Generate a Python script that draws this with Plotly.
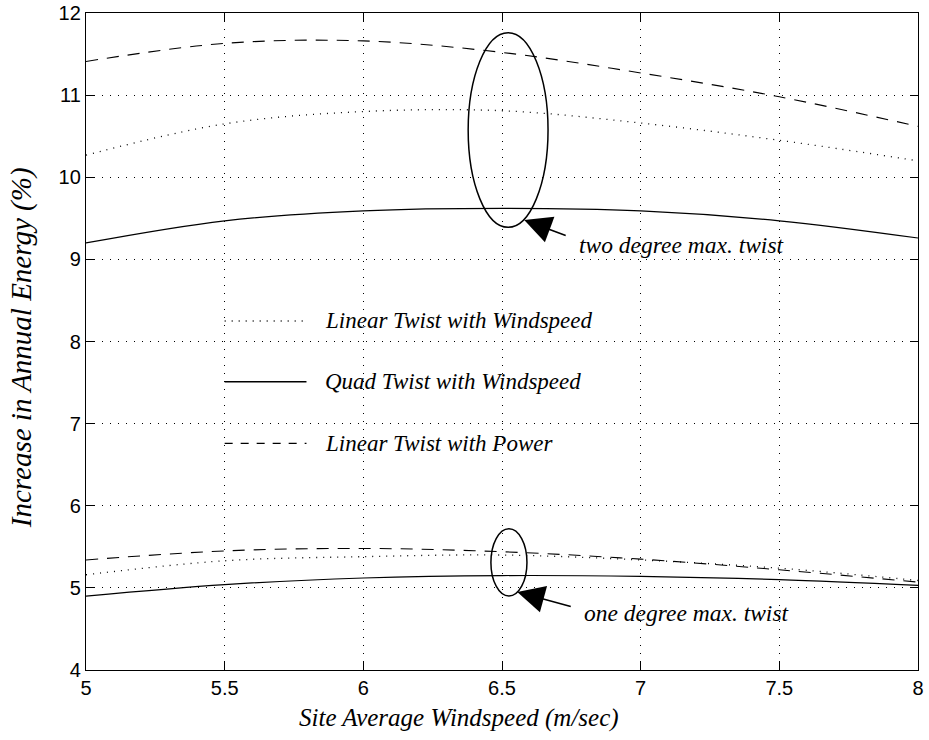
import plotly.graph_objects as go

windspeed = [5.0, 5.5, 6.0, 6.5, 7.0, 7.5, 8.0]

# two degree max. twist
lin_ws_2 = [10.27, 10.65, 10.80, 10.81, 10.66, 10.45, 10.20]
quad_ws_2 = [9.20, 9.47, 9.59, 9.62, 9.59, 9.47, 9.26]
lin_pw_2 = [11.41, 11.63, 11.66, 11.52, 11.27, 10.98, 10.62]

# one degree max. twist
lin_ws_1 = [5.16, 5.33, 5.38, 5.40, 5.34, 5.24, 5.09]
quad_ws_1 = [4.90, 5.04, 5.12, 5.15, 5.14, 5.10, 5.03]
lin_pw_1 = [5.34, 5.45, 5.48, 5.44, 5.35, 5.22, 5.07]

legend_names = ["Linear Twist with Windspeed", "Quad Twist with Windspeed", "Linear Twist with Power"]
x_ticks = [5, 5.5, 6, 6.5, 7, 7.5, 8]
y_ticks = [4, 5, 6, 7, 8, 9, 10, 11, 12]
x_title = "Site Average Windspeed (m/sec)"
y_title = "Increase in Annual Energy (%)"

DOT = "1px,6px"
DASH = "12px,9px"
styles = [dict(dash=DOT, width=1.3), dict(dash="solid", width=1.2), dict(dash=DASH, width=1.1)]

fig = go.Figure()
for name, ys, st in [
    (legend_names[0], lin_ws_2, styles[0]), (legend_names[1], quad_ws_2, styles[1]), (legend_names[2], lin_pw_2, styles[2]),
    (legend_names[0], lin_ws_1, styles[0]), (legend_names[1], quad_ws_1, styles[1]), (legend_names[2], lin_pw_1, styles[2]),
]:
    fig.add_trace(go.Scatter(x=windspeed, y=ys, mode="lines", name=name, showlegend=False,
                             line=dict(color="black", shape="spline", **st)))

serif = "Liberation Serif, Times New Roman, serif"
sans = "Liberation Sans, Arial, Helvetica, sans-serif"

# in-plot legend
legend_y = [8.25, 7.51, 6.76]
for name, ly, st in zip(legend_names, legend_y, styles):
    d = st["dash"] if st["dash"] != DASH else "8px,8px"
    fig.add_shape(type="line", xref="x", yref="y", x0=5.5, x1=5.795, y0=ly, y1=ly,
                  line=dict(color="black", width=st["width"] + 0.3, dash=d))
    fig.add_annotation(x=5.855, y=ly, xref="x", yref="y", text=name, showarrow=False,
                       xanchor="left", yanchor="middle",
                       font=dict(family=serif, size=23, color="black", style="italic"))

# ellipses
fig.add_shape(type="circle", xref="x", yref="y", x0=6.378, x1=6.666, y0=9.39, y1=11.76,
              line=dict(color="black", width=1.5))
fig.add_shape(type="circle", xref="x", yref="y", x0=6.46, x1=6.59, y0=4.90, y1=5.72,
              line=dict(color="black", width=1.5))

# arrows + labels
fig.add_annotation(x=6.58, y=9.48, xref="x", yref="y", ax=43, ay=16, axref="pixel", ayref="pixel",
                   text="", showarrow=True, arrowhead=2, arrowsize=3.4, arrowwidth=1.6, arrowcolor="black",
                   standoff=0)
fig.add_annotation(x=6.77, y=9.17, xref="x", yref="y", text="two degree max. twist", showarrow=False,
                   xanchor="left", yanchor="middle",
                   font=dict(family=serif, size=23.5, color="black", style="italic"))
fig.add_annotation(x=6.555, y=4.95, xref="x", yref="y", ax=55, ay=15, axref="pixel", ayref="pixel",
                   text="", showarrow=True, arrowhead=2, arrowsize=3.4, arrowwidth=1.6, arrowcolor="black",
                   standoff=0)
fig.add_annotation(x=6.79, y=4.69, xref="x", yref="y", text="one degree max. twist", showarrow=False,
                   xanchor="left", yanchor="middle",
                   font=dict(family=serif, size=23.5, color="black", style="italic"))

# axis titles (offset as in the original)
fig.add_annotation(x=0.448, y=-0.073, xref="paper", yref="paper", text=x_title, showarrow=False,
                   xanchor="center", yanchor="middle",
                   font=dict(family=serif, size=25, color="black", style="italic"))
fig.add_annotation(x=-0.078, y=0.49, xref="paper", yref="paper", text=y_title, showarrow=False,
                   textangle=-90, xanchor="center", yanchor="middle",
                   font=dict(family=serif, size=29, color="black", style="italic"))

axis_common = dict(showline=True, linecolor="black", linewidth=1.3, mirror="ticks",
                   ticks="inside", ticklen=8, tickcolor="black", tickwidth=1,
                   showgrid=True, gridcolor="black", gridwidth=1, griddash="1px,7px",
                   zeroline=False, tickfont=dict(family=sans, size=20, color="black"))

fig.update_xaxes(range=[5, 8], tickvals=x_ticks, ticktext=[f"{v:g}" for v in x_ticks], **axis_common)
fig.update_yaxes(range=[4, 12], tickvals=y_ticks, ticktext=[str(v) for v in y_ticks], **axis_common)

fig.update_layout(width=929, height=740, margin=dict(l=86, r=11, t=13, b=70, autoexpand=False),
                  paper_bgcolor="white", plot_bgcolor="white", showlegend=False)

fig.write_html("out.html")
